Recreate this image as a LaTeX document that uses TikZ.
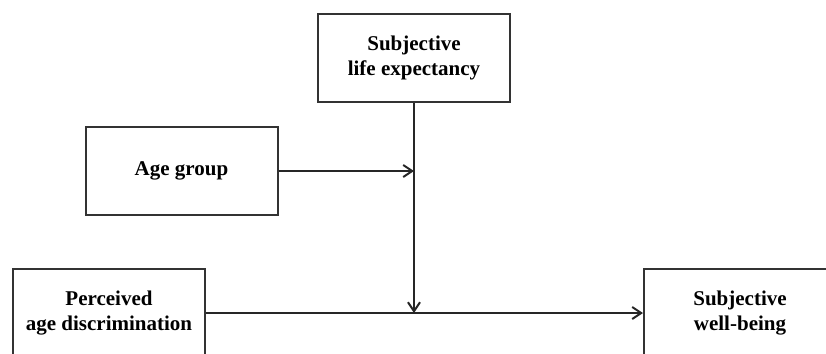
\documentclass[tikz,border=0pt]{standalone}
\usepackage{fontspec}
\setmainfont{Liberation Serif}
\usetikzlibrary{arrows.meta}

\begin{document}
\begin{tikzpicture}[
	x=0.5pt, y=-0.5pt,
	varbox/.style={rectangle, draw=black!80, line width=1pt, align=center,
		minimum width=96pt, minimum height=44pt,
		font=\fontsize{10.5}{12.5}\selectfont\bfseries},
	link/.style={-{Straight Barb[length=4.5pt,width=6pt]}, line width=1pt, draw=black!85}
	]
	\useasboundingbox (0,0) rectangle (826,354);
	
	% Moderators
	\node[varbox] (SLE) at (414,58) {Subjective \\ life expectancy};
	\node[varbox] (AGE) at (181.5,171) {Age group};
	
	% Predictor and outcome
	\node[varbox] (PAD) at (109,313) {Perceived \\ age discrimination};
	\node[varbox] (SWB) at (740,313) {Subjective \\ well-being};
	
	% Main path
	\draw[link] (PAD) -- (SWB);
	
	% Moderation paths
	\draw[link] (SLE) -- (SLE.south |- PAD.east);
	\draw[link] (AGE) -- (AGE.east -| SLE.south);
	
\end{tikzpicture}
\end{document}
